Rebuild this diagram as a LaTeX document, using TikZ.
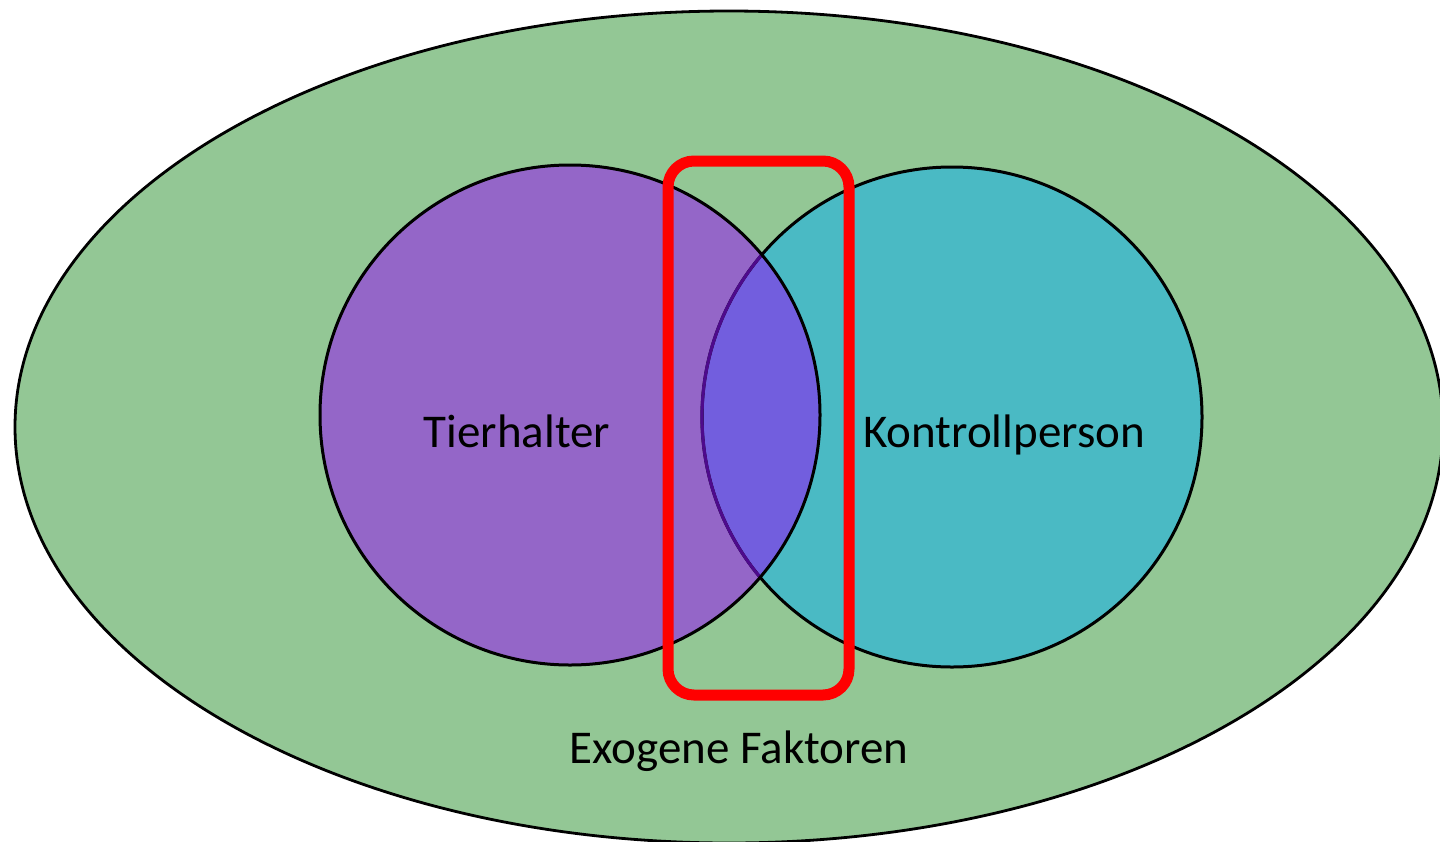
\documentclass[tikz,border=0pt]{standalone}
\usepackage{fontspec}
\setmainfont{Carlito}
\definecolor{outergreen}{HTML}{93C795}
\definecolor{lilac}{HTML}{9466C8}
\definecolor{tealc}{HTML}{4ABAC4}
\definecolor{lens}{HTML}{725EDE}
\definecolor{lensedge}{HTML}{4E0A8C}
\begin{document}
\begin{tikzpicture}[x=1pt,y=-1pt,
  lbl/.style={font=\fontsize{47}{50}\selectfont, anchor=base, inner sep=0pt, text=black},
  outline/.style={draw=black, line width=3pt}]
\useasboundingbox (0,0) rectangle (1440,841);
\begin{scope}
\clip (0,0) rectangle (1440,841);
\fill[outergreen] (729,427) ellipse [x radius=714, y radius=416];
\draw[black, line width=2.8pt] (729,427) ellipse [x radius=714, y radius=416];
\end{scope}
% circles
\fill[lilac] (570,415) circle [radius=250];
\fill[tealc] (952,417) circle [radius=250];
\begin{scope}
\clip (570,415) circle [radius=250];
\fill[lens] (952,417) circle [radius=250];
\end{scope}
\draw[outline] (952,417) circle [radius=250];
\begin{scope}
\clip (570,415) circle [radius=250];
\draw[draw=lensedge, line width=3.2pt] (952,417) circle [radius=250];
\end{scope}
\draw[outline] (570,415) circle [radius=250];
% red box
\draw[red, line width=11pt, rounded corners=26pt] (668,161) rectangle (849,695);
% labels
\node[lbl] (tier) at (517,447) {Tierhalter};
\node[lbl] (kont) at (1004,447) {Kontrollperson};
\node[lbl] (exo) at (739,763) {Exogene Faktoren};
\end{tikzpicture}
\end{document}
